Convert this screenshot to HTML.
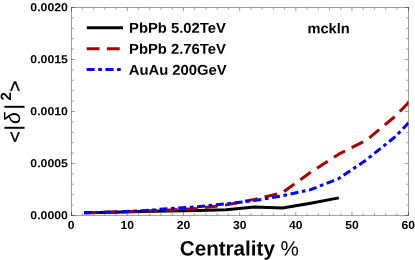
<!DOCTYPE html>
<html><head><meta charset="utf-8"><title>chart</title>
<style>
html,body{margin:0;padding:0;background:#fff;}
body{width:415px;height:260px;overflow:hidden;font-family:"Liberation Sans",sans-serif;}
svg{display:block;will-change:transform;}
svg text{font-family:"Liberation Sans",sans-serif;text-rendering:geometricPrecision;fill:#000;}
.b{font-weight:bold;}
</style></head><body>
<svg width="415" height="260" viewBox="0 0 415 260">
<rect x="0" y="0" width="415" height="260" fill="#ffffff"/>
<defs><clipPath id="pc"><rect x="71.50" y="7.50" width="337.00" height="207.95"/></clipPath></defs>
<g clip-path="url(#pc)" fill="none" stroke-linejoin="round">
<path d="M84.00 212.70 L113.70 212.20 L141.80 211.40 L169.90 210.90 L198.10 210.50 L226.20 209.70 L254.30 207.10 L282.40 208.10 L310.60 203.30 L338.80 197.90" stroke="#000000" stroke-width="3"/>
<path d="M84.00 212.75 L113.70 212.10 L141.80 211.10 L169.90 210.00 L198.10 208.40 L226.20 204.90 L254.30 199.40 L282.40 192.70 L310.60 172.30 L338.70 154.20 L366.80 140.00 L394.90 116.50 L423.00 88.00" stroke="#aa0000" stroke-width="3" stroke-dasharray="12.8 7.4"/>
<path d="M84.00 212.80 L113.70 212.10 L141.80 210.80 L169.90 208.50 L198.10 206.70 L226.20 203.80 L254.30 200.60 L282.40 195.80 L310.60 189.60 L338.70 178.60 L366.80 159.50 L394.90 137.00 L423.00 108.00" stroke="#0000ff" stroke-width="3" stroke-dasharray="8 3.64 3.6 3.64"/>
</g>
<g stroke="#000" stroke-opacity="0.42" stroke-width="0.9" fill="none">
<path d="M71.05 7.50H408.95"/><path d="M71.05 215.45H408.95"/><path d="M71.50 7.50V215.45"/><path d="M408.50 7.50V215.45"/>
<path d="M71.50 215.45V211.85"/><path d="M71.50 7.50V11.10"/><path d="M82.38 215.45V213.25"/><path d="M82.38 7.50V9.70"/><path d="M93.62 215.45V213.25"/><path d="M93.62 7.50V9.70"/><path d="M104.85 215.45V213.25"/><path d="M104.85 7.50V9.70"/><path d="M116.08 215.45V213.25"/><path d="M116.08 7.50V9.70"/><path d="M127.32 215.45V211.85"/><path d="M127.32 7.50V11.10"/><path d="M138.55 215.45V213.25"/><path d="M138.55 7.50V9.70"/><path d="M149.78 215.45V213.25"/><path d="M149.78 7.50V9.70"/><path d="M161.02 215.45V213.25"/><path d="M161.02 7.50V9.70"/><path d="M172.25 215.45V213.25"/><path d="M172.25 7.50V9.70"/><path d="M183.48 215.45V211.85"/><path d="M183.48 7.50V11.10"/><path d="M194.72 215.45V213.25"/><path d="M194.72 7.50V9.70"/><path d="M205.95 215.45V213.25"/><path d="M205.95 7.50V9.70"/><path d="M217.18 215.45V213.25"/><path d="M217.18 7.50V9.70"/><path d="M228.42 215.45V213.25"/><path d="M228.42 7.50V9.70"/><path d="M239.65 215.45V211.85"/><path d="M239.65 7.50V11.10"/><path d="M250.88 215.45V213.25"/><path d="M250.88 7.50V9.70"/><path d="M262.12 215.45V213.25"/><path d="M262.12 7.50V9.70"/><path d="M273.35 215.45V213.25"/><path d="M273.35 7.50V9.70"/><path d="M284.58 215.45V213.25"/><path d="M284.58 7.50V9.70"/><path d="M295.82 215.45V211.85"/><path d="M295.82 7.50V11.10"/><path d="M307.05 215.45V213.25"/><path d="M307.05 7.50V9.70"/><path d="M318.28 215.45V213.25"/><path d="M318.28 7.50V9.70"/><path d="M329.52 215.45V213.25"/><path d="M329.52 7.50V9.70"/><path d="M340.75 215.45V213.25"/><path d="M340.75 7.50V9.70"/><path d="M351.98 215.45V211.85"/><path d="M351.98 7.50V11.10"/><path d="M363.22 215.45V213.25"/><path d="M363.22 7.50V9.70"/><path d="M374.45 215.45V213.25"/><path d="M374.45 7.50V9.70"/><path d="M385.68 215.45V213.25"/><path d="M385.68 7.50V9.70"/><path d="M396.92 215.45V213.25"/><path d="M396.92 7.50V9.70"/><path d="M408.50 215.45V211.85"/><path d="M408.50 7.50V11.10"/>
<path d="M71.50 215.45H75.10"/><path d="M408.50 215.45H404.90"/><path d="M71.50 205.05H73.70"/><path d="M408.50 205.05H406.30"/><path d="M71.50 194.65H73.70"/><path d="M408.50 194.65H406.30"/><path d="M71.50 184.26H73.70"/><path d="M408.50 184.26H406.30"/><path d="M71.50 173.86H73.70"/><path d="M408.50 173.86H406.30"/><path d="M71.50 163.46H75.10"/><path d="M408.50 163.46H404.90"/><path d="M71.50 153.06H73.70"/><path d="M408.50 153.06H406.30"/><path d="M71.50 142.67H73.70"/><path d="M408.50 142.67H406.30"/><path d="M71.50 132.27H73.70"/><path d="M408.50 132.27H406.30"/><path d="M71.50 121.87H73.70"/><path d="M408.50 121.87H406.30"/><path d="M71.50 111.47H75.10"/><path d="M408.50 111.47H404.90"/><path d="M71.50 101.08H73.70"/><path d="M408.50 101.08H406.30"/><path d="M71.50 90.68H73.70"/><path d="M408.50 90.68H406.30"/><path d="M71.50 80.28H73.70"/><path d="M408.50 80.28H406.30"/><path d="M71.50 69.88H73.70"/><path d="M408.50 69.88H406.30"/><path d="M71.50 59.49H75.10"/><path d="M408.50 59.49H404.90"/><path d="M71.50 49.09H73.70"/><path d="M408.50 49.09H406.30"/><path d="M71.50 38.69H73.70"/><path d="M408.50 38.69H406.30"/><path d="M71.50 28.29H73.70"/><path d="M408.50 28.29H406.30"/><path d="M71.50 17.90H73.70"/><path d="M408.50 17.90H406.30"/><path d="M71.50 7.50H75.10"/><path d="M408.50 7.50H404.90"/>
</g>
<g transform="translate(67.90 219.25) rotate(0.03) scale(1.0500 1)"><text class="b" font-size="11.7" text-anchor="end">0.0000</text></g>
<g transform="translate(67.90 167.26) rotate(0.03) scale(1.0500 1)"><text class="b" font-size="11.7" text-anchor="end">0.0005</text></g>
<g transform="translate(67.90 115.27) rotate(0.03) scale(1.0500 1)"><text class="b" font-size="11.7" text-anchor="end">0.0010</text></g>
<g transform="translate(67.90 63.29) rotate(0.03) scale(1.0500 1)"><text class="b" font-size="11.7" text-anchor="end">0.0015</text></g>
<g transform="translate(67.90 11.30) rotate(0.03) scale(1.0500 1)"><text class="b" font-size="11.7" text-anchor="end">0.0020</text></g>
<g transform="translate(71.20 229.10) rotate(0.03) scale(1.0400 1)"><text class="b" font-size="11.7" text-anchor="middle">0</text></g>
<g transform="translate(127.37 229.10) rotate(0.03) scale(1.0400 1)"><text class="b" font-size="11.7" text-anchor="middle">10</text></g>
<g transform="translate(183.53 229.10) rotate(0.03) scale(1.0400 1)"><text class="b" font-size="11.7" text-anchor="middle">20</text></g>
<g transform="translate(239.70 229.10) rotate(0.03) scale(1.0400 1)"><text class="b" font-size="11.7" text-anchor="middle">30</text></g>
<g transform="translate(295.87 229.10) rotate(0.03) scale(1.0400 1)"><text class="b" font-size="11.7" text-anchor="middle">40</text></g>
<g transform="translate(352.03 229.10) rotate(0.03) scale(1.0400 1)"><text class="b" font-size="11.7" text-anchor="middle">50</text></g>
<g transform="translate(408.20 229.10) rotate(0.03) scale(1.0400 1)"><text class="b" font-size="11.7" text-anchor="middle">60</text></g>
<g fill="none" stroke-width="3">
<path d="M86.8 27.8H123" stroke="#000"/>
<path d="M86.7 48.65H120" stroke="#aa0000" stroke-dasharray="12.8 7.4"/>
<path d="M86.6 69.5H120.7" stroke="#0000ff" stroke-dasharray="8 3.64 3.6 3.64"/>
</g>
<g transform="translate(129.00 32.70) rotate(0.03) scale(1.0450 1)"><text class="b" font-size="14.2" text-anchor="start">PbPb 5.02TeV</text></g>
<g transform="translate(129.00 53.80) rotate(0.03) scale(1.0450 1)"><text class="b" font-size="14.2" text-anchor="start">PbPb 2.76TeV</text></g>
<g transform="translate(128.70 74.80) rotate(0.03) scale(1.0450 1)"><text class="b" font-size="14.2" text-anchor="start">AuAu 200GeV</text></g>
<g transform="translate(307.40 33.20) rotate(0.03) scale(1.0300 1)"><text class="b" font-size="14.2" text-anchor="start">mckln</text></g>
<g transform="translate(179.8 255.5) rotate(0.03) scale(0.991 1)"><text font-size="20.8"><tspan class="b">Centrality </tspan><tspan>%</tspan></text></g>
<g transform="translate(20.78 142.61) rotate(-90) scale(1.0621 1)"><text font-size="18.31" stroke="#000" stroke-width="0.4" stroke-linejoin="round">&lt;</text></g>
<g transform="translate(20.43 130.95) rotate(-90) scale(1.1440 1)"><text font-size="21.57">|</text></g>
<g transform="translate(20.08 124.00) rotate(-90) scale(0.9659 1)"><text font-size="22.20" font-style="italic">&#948;</text></g>
<g transform="translate(20.43 110.10) rotate(-90) scale(1.1440 1)"><text font-size="21.57">|</text></g>
<g transform="translate(11.20 100.52) rotate(-90) scale(1.0041 1)"><text font-size="14.89" font-weight="bold">2</text></g>
<g transform="translate(20.78 91.65) rotate(-90) scale(1.0565 1)"><text font-size="18.31" stroke="#000" stroke-width="0.4" stroke-linejoin="round">&gt;</text></g>
</svg>
</body></html>
